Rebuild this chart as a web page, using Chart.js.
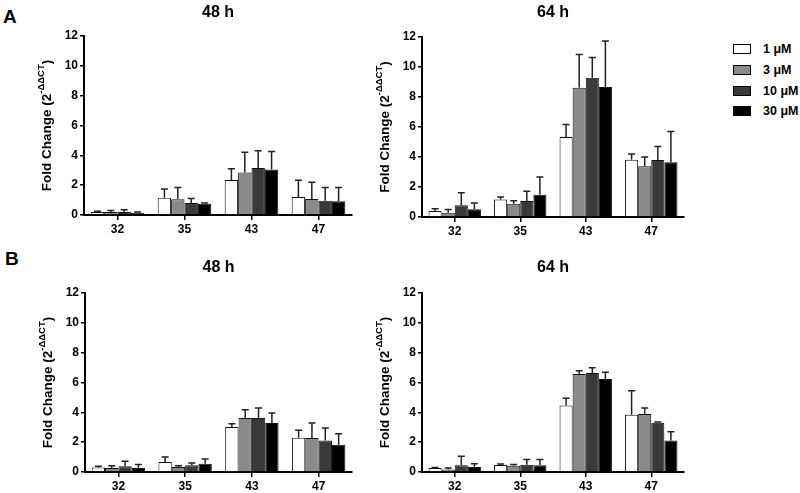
<!DOCTYPE html>
<html>
<head>
<meta charset="utf-8">
<script src="https://cdn.jsdelivr.net/npm/chart.js@4"></script>
<style>
    body { margin: 0; background: #fff; width: 800px; height: 493px; position: relative; overflow: hidden;
           font-family: "Liberation Sans", Arial, sans-serif; }
    .panel { position: absolute; }
    .letter { position: absolute; font-weight: bold; font-size: 19px; line-height: 1; }
    #legend { position: absolute; left: 733px; top: 39px; font-weight: bold; font-size: 12.5px; }
    #legend .row { height: 20.7px; display: flex; align-items: center; }
    #legend .box { width: 16px; height: 8px; border: 1px solid #000; margin-right: 12px; }
</style>
</head>
<body>
<div class="letter" style="left:3px;top:7px">A</div>
<div class="letter" style="left:5px;top:249px">B</div>
<div id="legend"></div>
<canvas id="a48" class="panel" style="left:0;top:0"></canvas>
<canvas id="a64" class="panel" style="left:330px;top:0"></canvas>
<canvas id="b48" class="panel" style="left:0;top:250px"></canvas>
<canvas id="b64" class="panel" style="left:330px;top:250px"></canvas>
<script>
const categories = ['32', '35', '43', '47'];
const doses = ['1 μM', '3 μM', '10 μM', '30 μM'];
const yTicks = [0, 2, 4, 6, 8, 10, 12];

// means per dose, one value per category
const a48Mean = [
    [0.2, 1.15, 2.35, 1.2],
    [0.2, 1.05, 2.85, 1.07],
    [0.2, 0.8, 3.15, 0.95],
    [0.15, 0.75, 3.05, 0.92]
];
const a48Sd = [
    [0.05, 0.6, 0.75, 1.13],
    [0.1, 0.8, 1.35, 1.13],
    [0.15, 0.3, 1.15, 0.9],
    [0.05, 0.05, 1.2, 0.93]
];
const a64Mean = [
    [0.4, 1.16, 5.33, 3.82],
    [0.29, 0.89, 8.62, 3.38],
    [0.78, 1.07, 9.29, 3.8],
    [0.51, 1.49, 8.67, 3.65]
];
const a64Sd = [
    [0.15, 0.17, 0.83, 0.38],
    [0.21, 0.2, 2.22, 0.62],
    [0.84, 0.64, 1.35, 0.9],
    [0.42, 1.18, 3.06, 2.05]
];
const b48Mean = [
    [0.31, 0.67, 3.02, 2.3],
    [0.27, 0.34, 3.62, 2.28],
    [0.38, 0.45, 3.62, 2.12],
    [0.27, 0.56, 3.28, 1.83]
];
const b48Sd = [
    [0.07, 0.33, 0.22, 0.5],
    [0.15, 0.08, 0.56, 1.0],
    [0.34, 0.15, 0.67, 0.83],
    [0.24, 0.31, 0.68, 0.74]
];
const b64Mean = [
    [0.27, 0.47, 4.45, 3.84],
    [0.16, 0.42, 6.57, 3.89],
    [0.45, 0.49, 6.64, 3.3],
    [0.34, 0.45, 6.23, 2.12]
];
const b64Sd = [
    [0.03, 0.07, 0.49, 1.61],
    [0.11, 0.09, 0.22, 0.4],
    [0.6, 0.34, 0.35, 0.05],
    [0.22, 0.38, 0.45, 0.58]
];

const fills = ['#ffffff', '#8a8a8a', '#3a3a3a', '#000000'];
const FONT = '"Liberation Sans", Arial, sans-serif';

// upper-only error bars
const errorBars = {
    id: 'errorBars',
    afterDatasetsDraw(chart) {
        const ctx = chart.ctx;
        const y = chart.scales.y;
        ctx.save();
        ctx.strokeStyle = '#222';
        ctx.lineWidth = 1.5;
        chart.data.datasets.forEach((ds, i) => {
            chart.getDatasetMeta(i).data.forEach((bar, j) => {
                const top = y.getPixelForValue(ds.data[j] + ds.sd[j]);
                ctx.beginPath();
                ctx.moveTo(bar.x, bar.y);
                ctx.lineTo(bar.x, top);
                ctx.moveTo(bar.x - 3.5, top);
                ctx.lineTo(bar.x + 3.5, top);
                ctx.stroke();
            });
        });
        ctx.restore();
    }
};

// panel title and y axis title with superscript
const panelText = {
    id: 'panelText',
    afterDraw(chart, args, opts) {
        const { ctx, chartArea } = chart;
        ctx.save();
        ctx.fillStyle = '#000';
        ctx.textBaseline = 'middle';
        ctx.textAlign = 'center';
        ctx.font = 'bold 16px ' + FONT;
        ctx.fillText(opts.title, (chartArea.left + chartArea.right) / 2, opts.titleY);

        const main = 'Fold Change (2', sup = '-ΔΔCT', end = ')';
        const big = 'bold 13.5px ' + FONT, small = 'bold 9.5px ' + FONT;
        ctx.font = big;
        const w1 = ctx.measureText(main).width, w3 = ctx.measureText(end).width;
        ctx.font = small;
        const w2 = ctx.measureText(sup).width;
        const total = w1 + w2 + w3;
        ctx.translate(chartArea.left - 37, (chartArea.top + chartArea.bottom) / 2);
        ctx.rotate(-Math.PI / 2);
        ctx.textAlign = 'left';
        let x = -total / 2;
        ctx.font = big;
        ctx.fillText(main, x, 0);
        x += w1;
        ctx.font = small;
        ctx.fillText(sup, x, -6);
        x += w2;
        ctx.font = big;
        ctx.fillText(end, x, 0);
        ctx.restore();
    }
};

function makeChart(id, means, sds, title, box) {
    const canvas = document.getElementById(id);
    canvas.width = box.w;
    canvas.height = box.h;
    canvas.style.width = box.w + 'px';
    canvas.style.height = box.h + 'px';
    return new Chart(canvas, {
        type: 'bar',
        data: {
            labels: categories,
            datasets: doses.map((d, i) => ({
                label: d,
                data: means[i],
                sd: sds[i],
                backgroundColor: fills[i],
                borderColor: '#111',
                borderWidth: 1,
                categoryPercentage: 0.8,
                barPercentage: 1.0
            }))
        },
        options: {
            responsive: false,
            animation: false,
            layout: { padding: { left: 0, right: box.padRight, top: box.padTop, bottom: 0 } },
            plugins: {
                legend: { display: false },
                tooltip: { enabled: false },
                panelText: { title: title, titleY: box.titleY }
            },
            scales: {
                x: {
                    grid: { display: true, drawOnChartArea: false, drawTicks: true, tickLength: 5,
                            offset: false, color: '#000', lineWidth: 1.5 },
                    border: { display: true, color: '#000', width: 2 },
                    ticks: { color: '#000', padding: 2, font: { family: FONT, size: 12, weight: 'bold' } },
                    afterFit(s) { s.height = box.xh; }
                },
                y: {
                    min: 0,
                    max: 12,
                    afterBuildTicks(s) { s.ticks = yTicks.map(v => ({ value: v })); },
                    grid: { display: true, drawOnChartArea: false, drawTicks: true, tickLength: 4,
                            color: '#000', lineWidth: 1.5 },
                    border: { display: true, color: '#000', width: 2 },
                    ticks: { color: '#000', padding: 2, font: { family: FONT, size: 12, weight: 'bold' } },
                    afterFit(s) { s.width = box.yw; }
                }
            }
        },
        plugins: [errorBars, panelText]
    });
}

makeChart('a48', a48Mean, a48Sd, '48 h', { w: 370, h: 245, yw: 84, padRight: 18, padTop: 36, xh: 30, titleY: 13 });
makeChart('a64', a64Mean, a64Sd, '64 h', { w: 370, h: 245, yw: 92, padRight: 16, padTop: 37, xh: 28, titleY: 13 });
makeChart('b48', b48Mean, b48Sd, '48 h', { w: 370, h: 243, yw: 85, padRight: 18, padTop: 43, xh: 21, titleY: 18 });
makeChart('b64', b64Mean, b64Sd, '64 h', { w: 370, h: 243, yw: 92, padRight: 16, padTop: 43, xh: 21, titleY: 18 });

const legend = document.getElementById('legend');
doses.forEach((d, i) => {
    const row = document.createElement('div');
    row.className = 'row';
    row.innerHTML = `<span class="box" style="background:${fills[i]}"></span><span>${d}</span>`;
    legend.appendChild(row);
});
</script>
</body>
</html>
